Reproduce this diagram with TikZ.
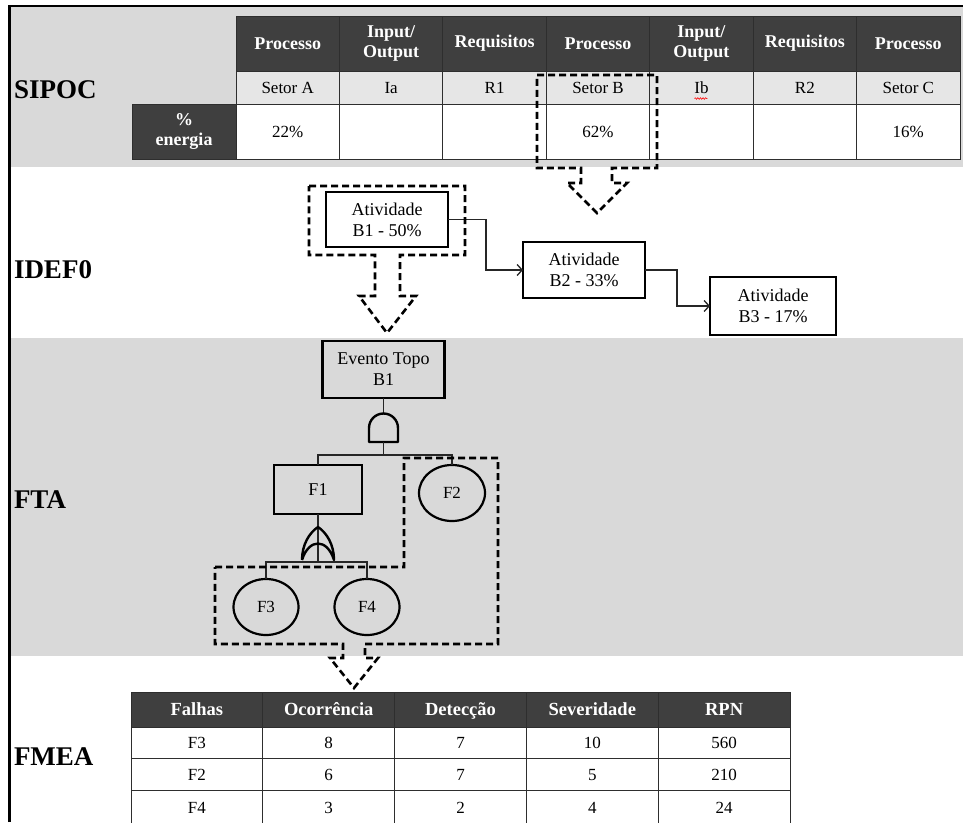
\documentclass[tikz,border=0pt]{standalone}
\usepackage{fontspec}
\setmainfont{Liberation Serif}
\usetikzlibrary{arrows.meta,calc,decorations.pathmorphing,shapes.geometric}

\definecolor{band}{HTML}{D9D9D9}
\definecolor{hdr}{HTML}{3F3F3F}
\definecolor{rowg}{HTML}{E6E6E6}
\definecolor{grid}{HTML}{2E2E2E}
\definecolor{wirec}{HTML}{262626}

\newcommand\fs[2]{\fontsize{#1pt}{#2pt}\selectfont}
\newcommand\inoutlbl{Input/\\Output}

\begin{document}
\begin{tikzpicture}[x=1pt,y=-1pt,
  every node/.style={inner sep=0pt, outer sep=0pt},
  seclabel/.style={anchor=west, font=\fs{27}{30}\bfseries},
  hcell/.style={draw=grid, line width=0.8pt, fill=hdr, text=white, align=center, font=\fs{18}{20}\bfseries},
  bcell/.style={draw=grid, line width=0.8pt, align=center, font=\fs{17}{20}},
  oneline/.style={text height=14pt, text depth=2pt},
  blk/.style={draw=black, line width=2.6pt, align=center, font=\fs{18}{21}},
  evt/.style={ellipse, draw=black, line width=2.2pt, font=\fs{17}{20}},
  wire/.style={draw=wirec, line width=1.3pt},
  gate/.style={draw=black, line width=2.4pt, line join=round},
  focus/.style={draw=black, line width=2.6pt, dash pattern=on 7pt off 4pt},
  flow/.style={wire, -{Straight Barb[length=5pt,width=11pt]}},
]
\useasboundingbox (0,0) rectangle (963,822);
\clip (0,0) rectangle (963,822);

% background bands and frame
\fill[white] (0,0) rectangle (963,822);
\fill[band] (10,7) rectangle (963,167);
\fill[band] (10,338) rectangle (963,656);
\draw[black, line width=2.5pt] (9.5,822) -- (9.5,6) -- (963,6);

% section labels
\node[seclabel] (lsipoc) at (14,90) {SIPOC};
\node[seclabel] (lidef) at (14,270) {IDEF0};
\node[seclabel] (lfta) at (14,500) {FTA};
\node[seclabel] (lfmea) at (14,757) {FMEA};

% SIPOC table
\foreach \hd/\sr/\pc [count=\i] in {Processo/Setor A/22\%, \inoutlbl/Ia/, Requisitos/R1/, Processo/Setor B/62\%, \inoutlbl/Ib/, Requisitos/R2/, Processo/Setor C/16\%} {
  \pgfmathsetmacro\cx{236+(\i-0.5)*103.43}
  \node[hcell, minimum width=103.43pt, minimum height=55pt] (sh\i) at (\cx,43.5) {\hd};
  \node[bcell, oneline, fill=rowg, minimum width=103.43pt, minimum height=33pt] (ss\i) at (\cx,87.5) {\sr};
  \node[bcell, oneline, fill=white, minimum width=103.43pt, minimum height=55pt] (se\i) at (\cx,131.5) {\pc};
}
\node[hcell, minimum width=104pt, minimum height=55pt] (energy) at (184,131.5) {\%\\energia};
\draw[grid, line width=1.4pt] (132,159.6) -- (960.6,159.6) -- (960.6,16);
\draw[red, line width=0.6pt, decorate, decoration={snake, amplitude=0.8pt, segment length=2.6pt}]
  ($(ss5.center)+(-7,11)$) -- ($(ss5.center)+(6,11)$);

% selection on Setor B pointing down
\draw[focus] (537,75) -- (657,75) -- (657,168) -- (612,168) -- (612,183) -- (627,183)
  -- (597,213) -- (567,183) -- (581,183) -- (581,168) -- (537,168) -- cycle;

% IDEF0 activities
\node[blk, minimum width=122pt, minimum height=55pt] (b1) at (387,219.5) {Atividade\\B1 - 50\%};
\node[blk, minimum width=122pt, minimum height=56pt] (b2) at (584,270) {Atividade\\B2 - 33\%};
\node[blk, minimum width=126pt, minimum height=58pt] (b3) at (773,306) {Atividade\\B3 - 17\%};
\draw[flow] (b1.east) -- ++(38,0) |- (b2.west);
\draw[flow] (b2.east) -- ++(32,0) |- (b3.west);

\draw[focus] (309,186) -- (465,186) -- (465,255) -- (400,255) -- (400,296) -- (416,296)
  -- (387,333) -- (359,296) -- (375,296) -- (375,255) -- (309,255) -- cycle;

% fault tree
\node[blk, minimum width=122pt, minimum height=57pt] (top) at (383.5,369.5) {Evento Topo\\B1};
\node[blk, minimum width=88pt, minimum height=49pt] (f1) at (318,489.5) {F1};
\node[evt, minimum width=66pt, minimum height=56pt] (f2) at (452,493) {F2};
\node[evt, minimum width=65pt, minimum height=56pt] (f3) at (266,607) {F3};
\node[evt, minimum width=65pt, minimum height=56pt] (f4) at (367,607) {F4};

\coordinate (andTop) at (383.5,413.5);
\coordinate (andBot) at (383.5,442);
\coordinate (orJoin) at (318,562);

\draw[wire] (top.south) -- (andTop);
\draw[gate] ($(andBot)+(-14.5,0)$) -- ++(0,-14) arc[start angle=180, end angle=0, radius=14.5pt] -- ++(0,14) -- cycle;
\draw[wire] (andBot) -- ++(0,13);
\draw[wire] (f1.north) -- ++(0,-10) -| (f2.north);

\draw[wire] (f1.south) -- (orJoin);
\draw[gate] (302,560) .. controls (302,545) and (309,533) .. (318,527)
  .. controls (327,533) and (334,545) .. (334,560)
  .. controls (327,538) and (309,538) .. (302,560);
\draw[wire] (f3.north) -- ++(0,-17) -| (f4.north);

\draw[focus] (215,567) -- (404,567) -- (404,458) -- (498,458) -- (498,644) -- (365,644)
  -- (365,658) -- (378,658) -- (354,688) -- (330,658) -- (343,658) -- (343,644)
  -- (215,644) -- cycle;

% FMEA table
\foreach \hd/\ra/\rb/\rc [count=\i] in {Falhas/F3/F2/F4, Ocorrência/8/6/3, Detecção/7/7/2, Severidade/10/5/4, RPN/560/210/24} {
  \pgfmathsetmacro\cx{131+(\i-0.5)*131.8}
  \node[hcell, oneline, font=\fs{18.5}{20}\bfseries, minimum width=131.8pt, minimum height=35pt] (fh\i) at (\cx,709.5) {\hd};
  \node[bcell, oneline, fill=white, minimum width=131.8pt, minimum height=31pt] (fa\i) at (\cx,742.5) {\ra};
  \node[bcell, oneline, fill=white, minimum width=131.8pt, minimum height=32pt] (fb\i) at (\cx,774) {\rb};
  \node[bcell, oneline, fill=white, minimum width=131.8pt, minimum height=34pt] (fc\i) at (\cx,807) {\rc};
}
\end{tikzpicture}
\end{document}
